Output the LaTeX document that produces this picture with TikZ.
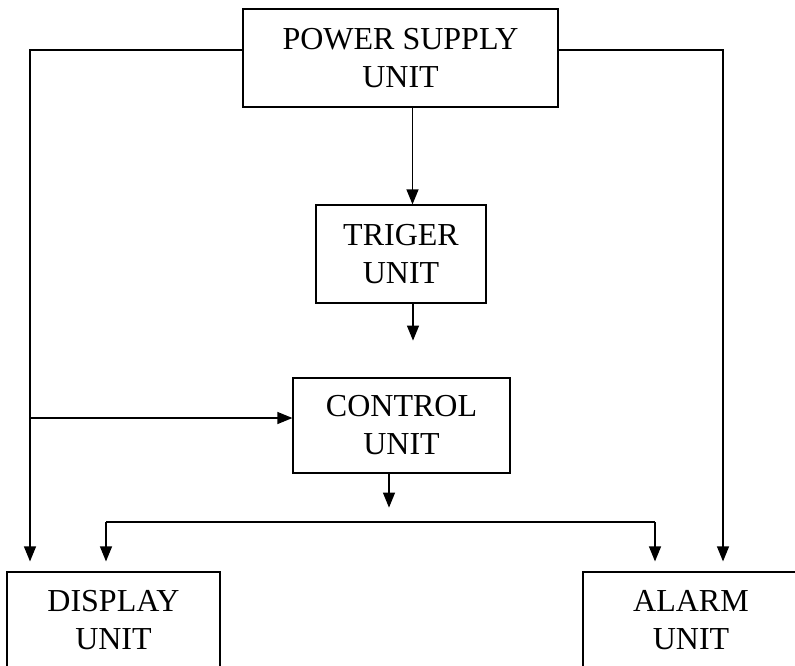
\documentclass[tikz,border=0pt]{standalone}
\usepackage{fontspec}
\setmainfont{Liberation Serif}
\usepackage{tikz}
\usetikzlibrary{arrows.meta,positioning,calc}

\begin{document}
\begin{tikzpicture}[
  x=1pt, y=1pt,
  unit/.style={
    rectangle, draw=black, line width=1.2pt,
    inner sep=0pt, align=center,
    font=\fontsize{32}{38}\selectfont
  },
  arrow/.style={
    -{Triangle[length=15pt,width=12pt]}, line width=1.2pt
  },
  wire/.style={
    line width=1.2pt
  }
]
\useasboundingbox (0,0) rectangle (795,-665);

%% Units
\node[unit, minimum width=315pt, minimum height=98pt] (psu) at (400.5,-58) {POWER SUPPLY\\UNIT};
\node[unit, minimum width=170pt, minimum height=98pt] (trig) at (401,-254) {TRIGER\\UNIT};
\node[unit, minimum width=217pt, minimum height=95pt] (ctrl) at (401.5,-425.5) {CONTROL\\UNIT};
\node[unit, minimum width=213pt, minimum height=96pt] (disp) at (113.5,-620) {DISPLAY\\UNIT};
\node[unit, minimum width=216pt, minimum height=96pt] (alarm) at (691,-620) {ALARM\\UNIT};

%% Wiring points
\coordinate (lfeed) at (30,-50);
\coordinate (rfeed) at (723,-50);
\coordinate (tout) at ([xshift=12pt,yshift=-37pt]trig.south);
\coordinate (cout) at ([xshift=-12.5pt,yshift=-34pt]ctrl.south);
\coordinate (busL) at (106,-522);
\coordinate (busR) at (655,-522);

%% Arrows
\draw[arrow] ([xshift=12pt]psu.south) -- ([xshift=12pt]psu.south |- trig.north);
\draw[arrow] ([xshift=12pt]trig.south) -- (tout);
\draw[arrow] ([xshift=-12.5pt]ctrl.south) -- (cout);
\draw[arrow, shorten >=10pt] ([yshift=8pt]psu.west) -| (lfeed |- disp.north);
\draw[arrow, shorten >=10pt] ([yshift=8pt]psu.east) -| (rfeed |- alarm.north);
\draw[arrow] (lfeed |- ctrl.west) ++(0,7.5) -- ([yshift=7.5pt]ctrl.west);
\draw[wire] (busL) -- (busR);
\draw[arrow, shorten >=10pt] (busL) -- (busL |- disp.north);
\draw[arrow, shorten >=10pt] (busR) -- (busR |- alarm.north);

\end{tikzpicture}
\end{document}
